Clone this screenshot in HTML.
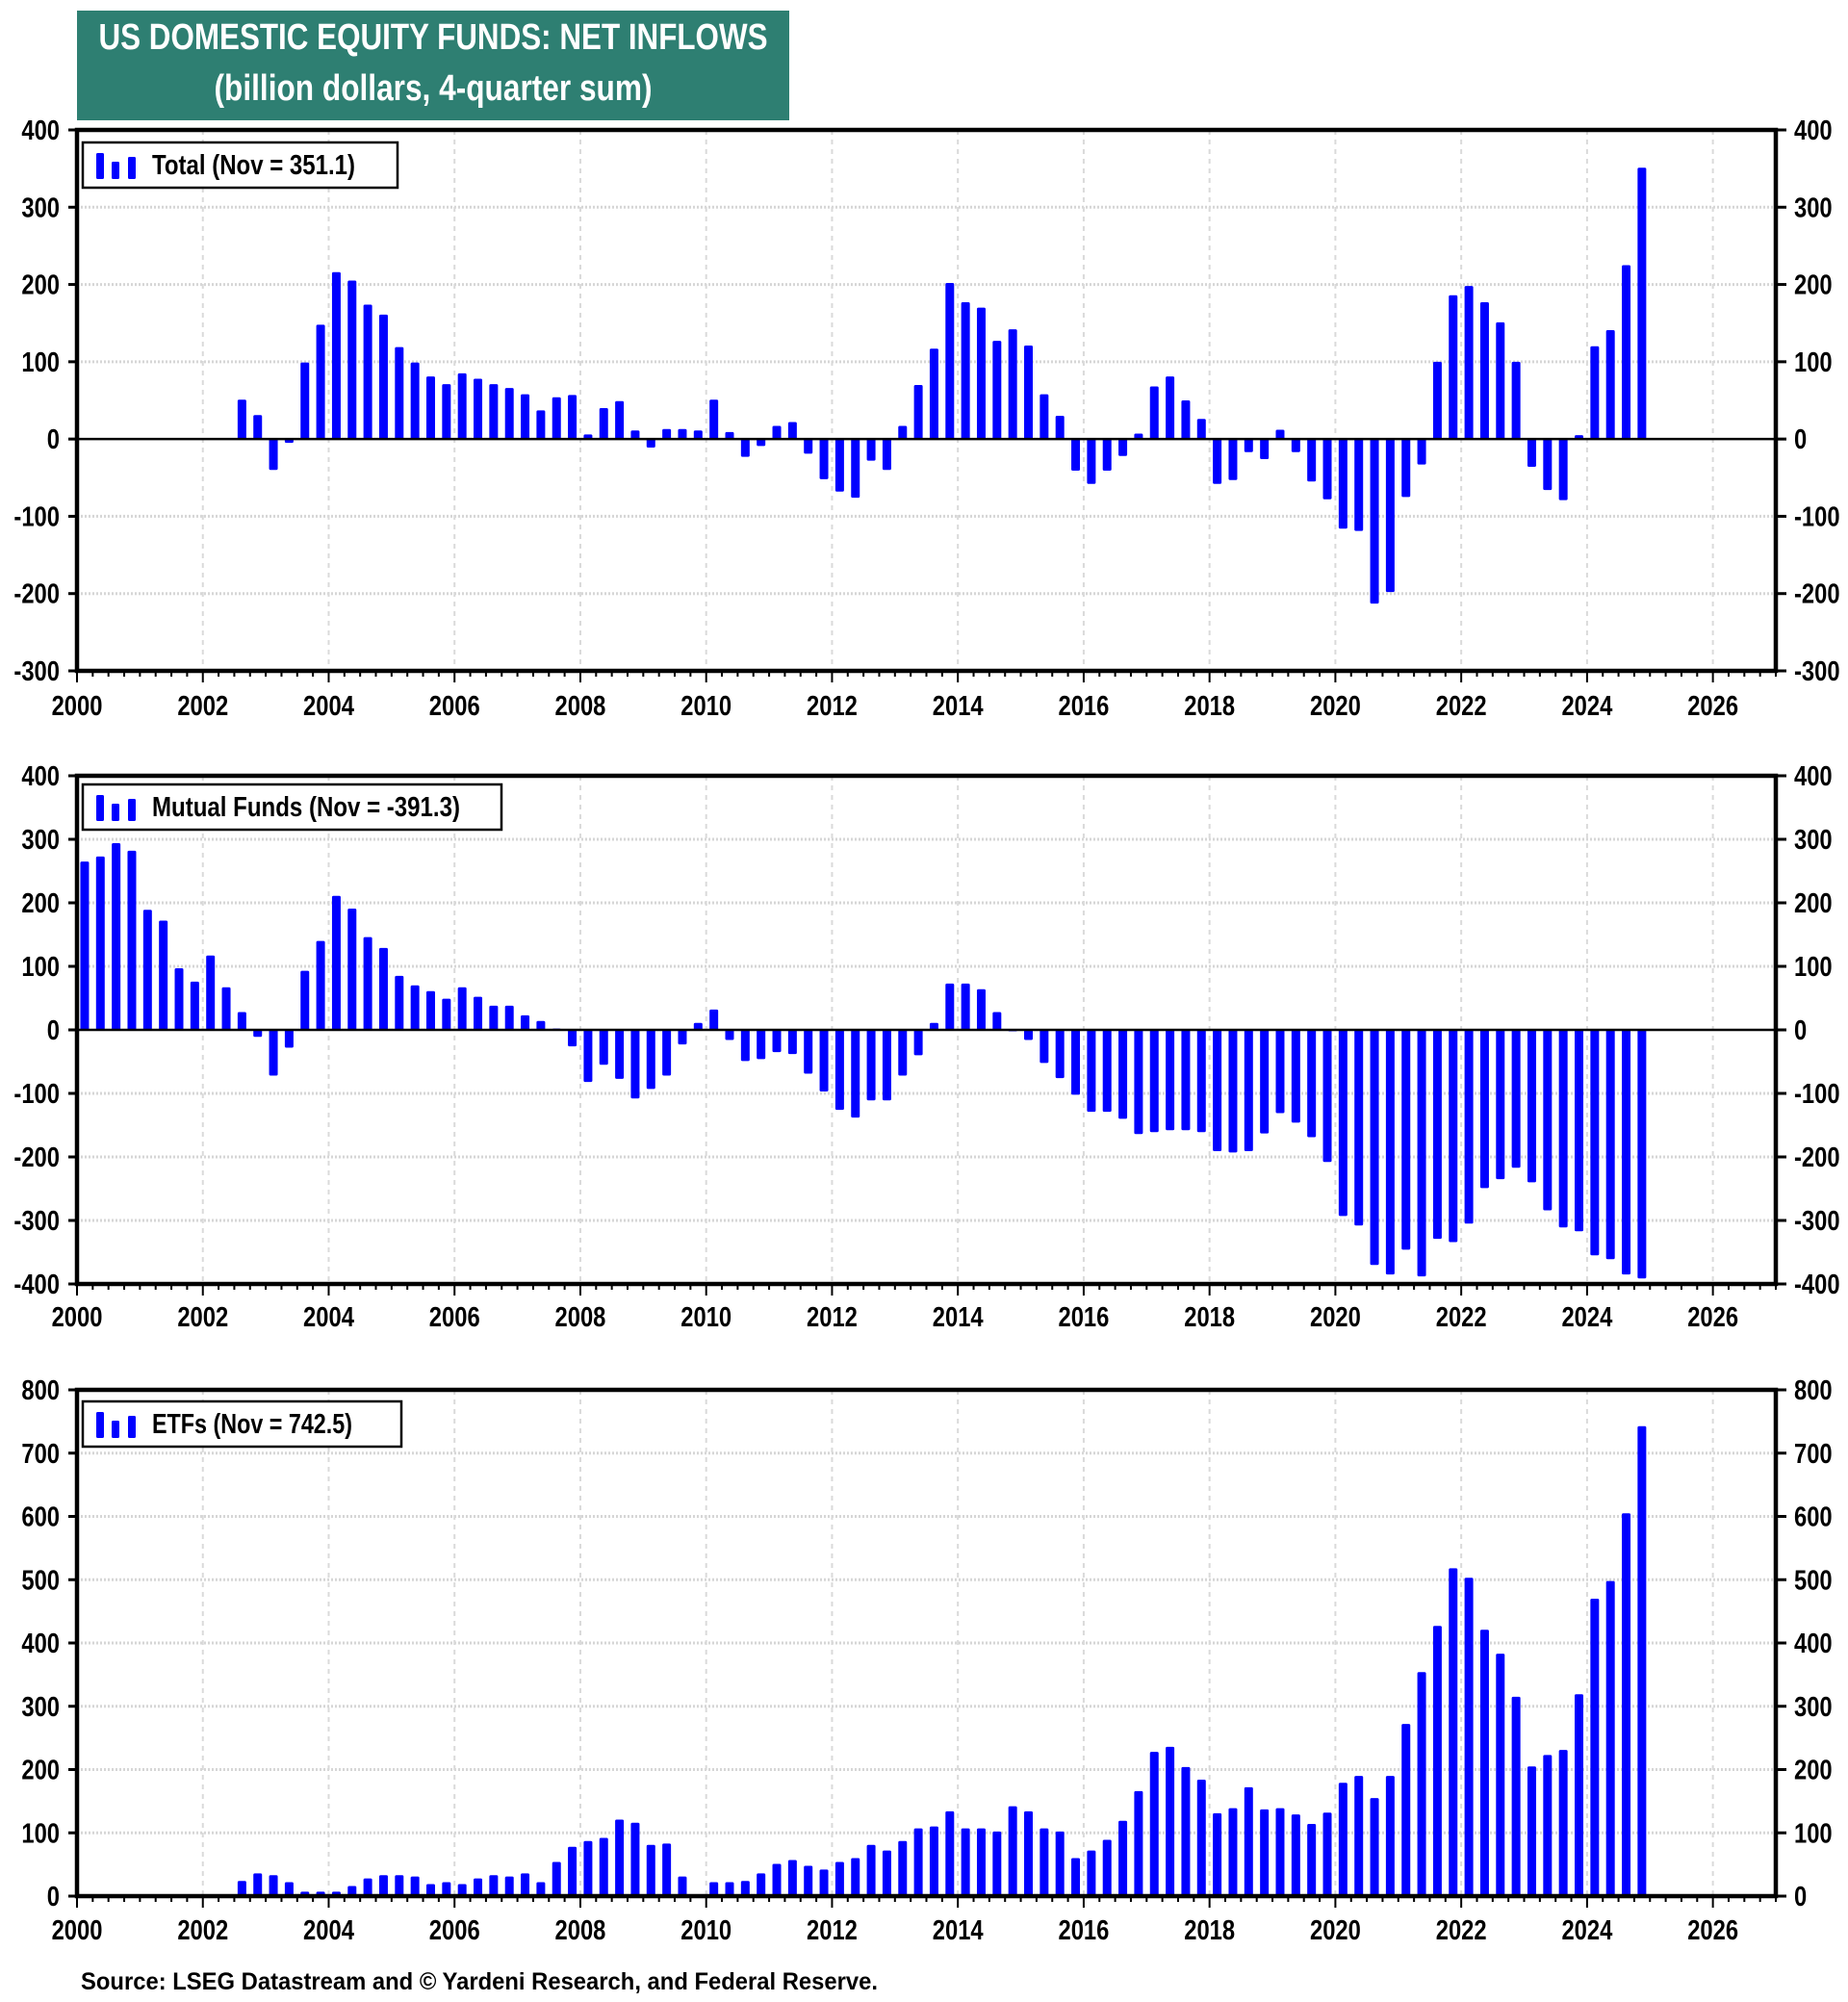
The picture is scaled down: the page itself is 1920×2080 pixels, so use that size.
<!DOCTYPE html>
<html><head><meta charset="utf-8"><style>
html,body{margin:0;padding:0;background:#fff;}
svg{display:block;font-family:"Liberation Sans",Arial,sans-serif;font-weight:bold;}
</style></head><body>
<svg id="chart" width="1920" height="2080" viewBox="0 0 1920 2080" xmlns="http://www.w3.org/2000/svg">
<rect x="80" y="11" width="740" height="114" fill="#2e7f72"/>
<text x="450" y="51" text-anchor="middle" fill="#fff" font-size="38" textLength="695" lengthAdjust="spacingAndGlyphs">US DOMESTIC EQUITY FUNDS: NET INFLOWS</text>
<text x="450" y="104" text-anchor="middle" fill="#fff" font-size="38" textLength="455" lengthAdjust="spacingAndGlyphs">(billion dollars, 4-quarter sum)</text>
<g id="panels"></g>
<text x="84" y="2067" font-size="25" textLength="828" lengthAdjust="spacingAndGlyphs">Source: LSEG Datastream and © Yardeni Research, and Federal Reserve.</text>
</svg>
<script>
const quarterMonths = [2, 5, 8, 11];
const totalValues = [51,31, -40,-5,99,148, 216,205,174,161, 119,99,81,71, 85,78,71,66, 58,37,54,57, 6,40,49,11, -11,13,13,11, 51,9,-23,-9, 17,22,-19,-52, -68,-76,-28,-40, 17,70,117,202, 177,170,127,142, 121,58,30,-41, -58,-41,-22,7, 68,81,50,26, -58,-53,-17,-26, 12,-17,-55,-78, -116,-119,-213,-198, -75,-33,100,186, 198,177,151,100, -36,-66,-79,5, 120,141,225,351.1];
const totalStart = [2002, 2];
const mutualValues = [265,273,294,282, 189,172,97,76, 117,67,28,-11, -72,-28,93,140, 211,191,146,129, 85,70,61,49, 67,52,38,38, 23,14,2,-26, -82,-55,-77,-108, -93,-72,-23,11, 32,-16,-49,-46, -35,-38,-69,-97, -126,-138,-111,-111, -72,-40,11,73, 73,64,28,-2, -16,-52,-76,-102, -129,-129,-140,-164, -161,-158,-158,-161, -191,-193,-191,-163, -131,-146,-169,-208, -293,-308,-370,-385, -346,-388,-329,-334, -305,-249,-235,-217, -240,-284,-311,-317, -355,-361,-385,-391.3];
const mutualStart = [2000, 0];
const etfValues = [24,36, 33,22,7,7, 7,16,28,33, 33,31,19,22, 19,28,33,31, 36,22,54,78, 87,92,121,116, 81,83,31,1, 22,22,24,36, 51,57,48,42, 54,60,81,72, 87,107,110,134, 107,107,102,142, 134,107,102,60, 72,89,119,166, 228,236,204,184, 131,139,172,137, 139,129,114,132, 179,190,155,190, 272,354,427,518, 503,421,383,315, 205,223,231,319, 470,498,605,742.5];
const etfStart = [2002, 2];
const totalTicks = [400,300,200,100,0,-100,-200,-300];
const mutualTicks = [400,300,200,100,0,-100,-200,-300,-400];
const etfTicks = [800,700,600,500,400,300,200,100,0];
const yearLabels = [2000,2002,2004,2006,2008,2010,2012,2014,2016,2018,2020,2022,2024,2026];
const legendLabels = ["Total (Nov = 351.1)", "Mutual Funds (Nov = -391.3)", "ETFs (Nov = 742.5)"];

const NS = "http://www.w3.org/2000/svg";
const root = document.getElementById('panels');
const X0 = 80, X1 = 1845, YR0 = 2000, YR1 = 2027;
function xs(t){ return X0 + (t - YR0) * (X1 - X0) / (YR1 - YR0); }
function mk(tag, attrs, parent){ const e = document.createElementNS(NS, tag); for (const k in attrs) e.setAttribute(k, attrs[k]); (parent||root).appendChild(e); return e; }

const panelDefs = [
  {name:'total', vals: totalValues, start: totalStart, ticks: totalTicks, top:135, bot:697, xlab:743, legend:[86,148,327,47], legendW:211},
  {name:'mutual-funds', vals: mutualValues, start: mutualStart, ticks: mutualTicks, top:806, bot:1334, xlab:1378, legend:[86,815,435,47], legendW:320},
  {name:'etfs', vals: etfValues, start: etfStart, ticks: etfTicks, top:1444, bot:1970, xlab:2015, legend:[86,1456,331,47], legendW:208}
];

panelDefs.forEach((p, pi) => {
  const g = mk('g', {});
  
  
  const vmax = p.ticks[0], vmin = p.ticks[p.ticks.length-1];
  const ys = v => p.top + (vmax - v) * (p.bot - p.top) / (vmax - vmin);
  p.ticks.forEach(t => {
    if (t === vmax || t === vmin || t === 0) return;
    const l = mk('line', {x1:X0, x2:X1, y1:ys(t), y2:ys(t), stroke:'#d6d6d6', 'stroke-width':3, 'stroke-dasharray':'2 2'}, g);
    
    
  });
  yearLabels.forEach(yv => {
    if (yv === 2000) return;
    const l = mk('line', {x1:xs(yv), x2:xs(yv), y1:p.top, y2:p.bot, stroke:'#dadada', 'stroke-width':2, 'stroke-dasharray':'5 5'}, g);
    
    
  });
  const y0 = ys(0);
  p.vals.forEach((v, i) => {
    const qi = p.start[1] + i;
    const yr = p.start[0] + Math.floor(qi / 4);
    const m = quarterMonths[qi % 4];
    const t = yr + m / 12 - 0.045;
    const cx = xs(t);
    const yv = ys(v);
    const r = mk('rect', {x: cx - 4.5, y: Math.min(yv, y0), width: 9, height: Math.max(1.5, Math.abs(yv - y0)), fill:'#0000ff', rx:1.5}, g);
    
    
  });
  if (vmin < 0) {
    const z = mk('line', {x1:X0, x2:X1, y1:y0, y2:y0, stroke:'#000', 'stroke-width':2.5}, g);
    
    
  }
  const fr = mk('rect', {x:X0, y:p.top, width:X1-X0, height:p.bot-p.top, fill:'none', stroke:'#000', 'stroke-width':4.5}, g);
  
  
  p.ticks.forEach(t => {
    const y = ys(t);
    mk('line', {x1:X0-9, x2:X0, y1:y, y2:y, stroke:'#000', 'stroke-width':3}, g);
    mk('line', {x1:X1, x2:X1+11, y1:y, y2:y, stroke:'#000', 'stroke-width':3}, g);
    const tl = mk('text', {x:0, y:0, 'text-anchor':'end', 'font-size':29, transform:`translate(62,${y+10}) scale(0.82,1)`}, g);
    tl.textContent = t;
    
    
    const tr = mk('text', {x:0, y:0, 'font-size':29, transform:`translate(1864,${y+10}) scale(0.82,1)`}, g);
    tr.textContent = t;
    
    
  });
  for (let q = 0; q <= (YR1 - YR0) * 4; q++) {
    const x = xs(YR0 + q / 4);
    const major = q % 8 === 0;
    mk('line', {x1:x, x2:x, y1:p.bot, y2:p.bot + (major ? 12 : 6), stroke:'#000', 'stroke-width':2}, g);
  }
  yearLabels.forEach(yv => {
    const xl = mk('text', {x:0, y:0, 'text-anchor':'middle', 'font-size':29, transform:`translate(${xs(yv)},${p.xlab}) scale(0.82,1)`}, g);
    xl.textContent = yv;
    
    
  });
  const [lx, ly, lw, lh] = p.legend;
  const lg = mk('g', {}, g);
  
  
  mk('rect', {x:lx, y:ly, width:lw, height:lh, fill:'#fff', stroke:'#000', 'stroke-width':2.5}, lg);
  mk('rect', {x:lx+14, y:ly+11, width:8, height:27, fill:'#0000ff', rx:1.5}, lg);
  mk('rect', {x:lx+30, y:ly+20, width:8, height:18, fill:'#0000ff', rx:1.5}, lg);
  mk('rect', {x:lx+47, y:ly+15, width:8, height:23, fill:'#0000ff', rx:1.5}, lg);
  const lt = mk('text', {x:lx+72, y:ly+33, 'font-size':29, textLength:p.legendW, lengthAdjust:'spacingAndGlyphs'}, lg);
  lt.textContent = legendLabels[pi];
  
  
});
</script>
</body></html>
